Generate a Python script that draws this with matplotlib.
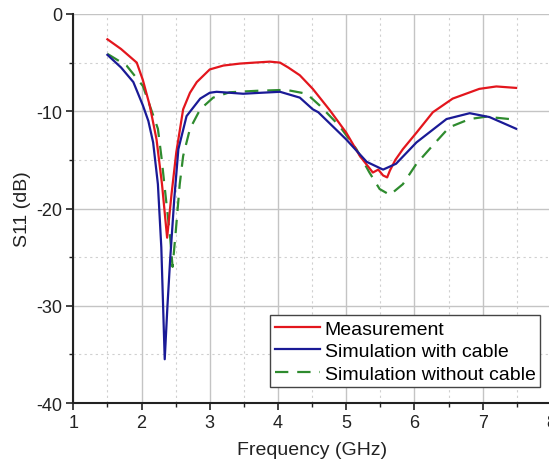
import matplotlib
matplotlib.use("Agg")
import matplotlib.pyplot as plt
from matplotlib.ticker import MultipleLocator

plt.rcParams['font.family'] = ['Liberation Sans', 'DejaVu Sans']
plt.rcParams['axes.unicode_minus'] = False

# Measurement
meas_f = [1.5, 1.7, 1.93, 2.02, 2.12, 2.22, 2.30, 2.375, 2.44, 2.51, 2.61, 2.71, 2.81, 3.0,
          3.2, 3.44, 3.65, 3.88, 4.03, 4.15, 4.32, 4.51, 4.76, 5.0, 5.2, 5.39, 5.47, 5.54,
          5.6, 5.64, 5.72, 5.83, 6.03, 6.27, 6.56, 6.95, 7.2, 7.49]
meas_s = [-2.6, -3.6, -5.0, -6.8, -9.4, -12.9, -17.5, -23.0, -18.5, -14.2, -9.8, -8.1, -7.0, -5.7,
          -5.3, -5.1, -5.0, -4.9, -5.0, -5.5, -6.3, -7.7, -9.9, -12.2, -14.6, -16.3, -16.0, -16.6,
          -16.8, -16.1, -15.0, -13.9, -12.2, -10.1, -8.7, -7.7, -7.45, -7.6]

# Simulation with cable
wc_f = [1.5, 1.7, 1.88, 2.02, 2.10, 2.17, 2.24, 2.29, 2.34, 2.38, 2.42, 2.48, 2.54, 2.66,
        2.86, 3.0, 3.1, 3.49, 3.75, 4.03, 4.32, 4.51, 4.59, 5.0, 5.3, 5.54, 5.73, 6.03,
        6.47, 6.81, 7.1, 7.49]
wc_s = [-4.2, -5.5, -7.0, -9.4, -11.0, -13.2, -17.5, -24.0, -35.5, -30.0, -25.2, -19.0, -13.9, -10.5,
        -8.7, -8.1, -8.0, -8.2, -8.1, -8.0, -8.6, -9.8, -10.1, -12.9, -15.2, -16.0, -15.4, -13.2,
        -10.8, -10.2, -10.6, -11.8]

# Simulation without cable
nc_f = [1.5, 1.78, 2.02, 2.12, 2.24, 2.29, 2.35, 2.42, 2.455, 2.50, 2.56, 2.61, 2.71, 2.86,
        3.05, 3.29, 3.68, 4.12, 4.42, 4.61, 4.9, 5.15, 5.34, 5.49, 5.64, 5.83, 6.03, 6.27,
        6.51, 6.81, 7.05, 7.39, 7.5]
nc_s = [-4.1, -5.3, -7.4, -9.4, -11.8, -14.6, -18.5, -23.0, -26.0, -22.5, -17.5, -14.6, -11.8, -9.8,
        -8.6, -8.05, -7.9, -7.8, -8.2, -9.4, -11.5, -13.9, -16.3, -18.0, -18.6, -17.5, -15.4, -13.5,
        -11.65, -10.8, -10.56, -10.8, -10.9]

labels = ["Measurement", "Simulation with cable", "Simulation without cable"]

fig = plt.figure(figsize=(5.49, 4.60), dpi=100)
ax = fig.add_axes([0.1335, 0.1217, 0.870, 0.8457])

ax.plot(meas_f, meas_s, color='#e3161d', lw=1.6, label=labels[0], zorder=3)
ax.plot(wc_f, wc_s, color='#1a1a96', lw=1.6, label=labels[1], zorder=4)
ax.plot(nc_f, nc_s, color='#2e8b2e', lw=1.6, ls=(0, (6, 4)), label=labels[2], zorder=2)

ax.set_xlim(1, 8)
ax.set_ylim(-40, 0)
ax.xaxis.set_major_locator(MultipleLocator(1))
ax.xaxis.set_minor_locator(MultipleLocator(0.5))
ax.yaxis.set_major_locator(MultipleLocator(10))
ax.yaxis.set_minor_locator(MultipleLocator(5))

ax.grid(which='major', color='#c4c4c4', lw=1.0, ls='-')
ax.grid(which='minor', color='#d0d0d0', lw=0.8, ls=(0, (2, 3)))
ax.set_axisbelow(True)

for s in ['top', 'right']:
    ax.spines[s].set_visible(False)
for s in ['left', 'bottom']:
    ax.spines[s].set_color('#222222')
    ax.spines[s].set_linewidth(1.5)

ax.tick_params(which='major', direction='out', length=5, width=1.2, color='#222222',
               labelsize=13, labelcolor='#222222', pad=3)
ax.tick_params(which='minor', direction='out', length=3, width=1.0, color='#222222')

ax.set_xlabel("Frequency (GHz)", fontsize=14, color='#222222', labelpad=7)
ax.set_ylabel("S11 (dB)", fontsize=14, color='#222222', labelpad=4)

leg = ax.legend(loc='lower right', bbox_to_anchor=(0.978, 0.04), fontsize=14,
                frameon=True, fancybox=False, edgecolor='#444444', framealpha=1,
                handlelength=2.3, handletextpad=0.25, borderpad=0.25, labelspacing=0.25,
                borderaxespad=0)
leg.get_frame().set_linewidth(1.0)

fig.savefig("out.png", dpi=100)
